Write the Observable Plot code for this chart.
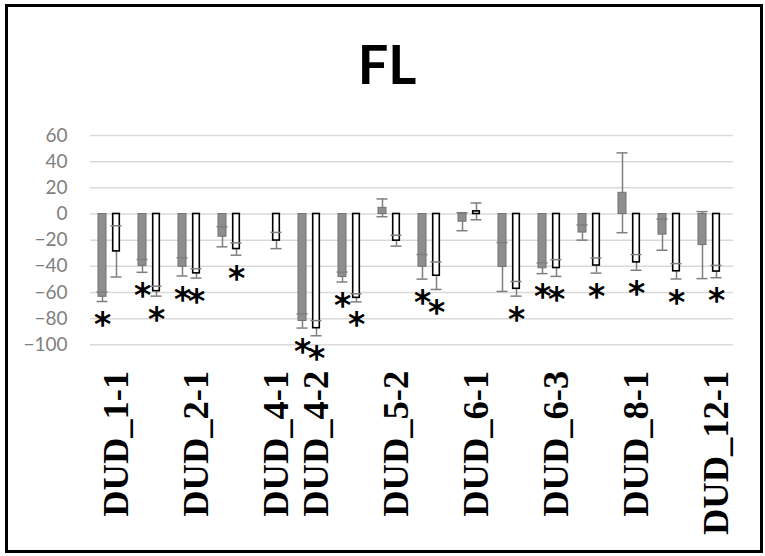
<!DOCTYPE html>
<html><head><meta charset="utf-8">
<script src="https://cdn.jsdelivr.net/npm/d3@7"></script>
<script src="https://cdn.jsdelivr.net/npm/@observablehq/plot@0.6"></script>
<style>
body{margin:0;background:#fff;}
#wrap{position:relative;width:765px;height:556px;overflow:hidden;background:#fff;}
#chart{position:absolute;left:0;top:0;}
#title{position:absolute;left:0;width:774px;top:37px;text-align:center;font-family:Lato,"Open Sans",sans-serif;font-weight:700;font-size:54px;line-height:54px;color:#000;}
#frame{position:absolute;left:5px;top:4px;width:758px;height:549px;border:3.5px solid #000;box-sizing:border-box;pointer-events:none;}
</style></head><body>
<div id="wrap"><div id="chart"></div><div id="title">FL</div><div id="frame"></div></div>
<script>
// Category tick labels (only every other one shown in the original)
const tickLabels = ["DUD_1-1","","DUD_2-1","","DUD_4-1","DUD_4-2","","DUD_5-2","","DUD_6-1","","DUD_6-3","","DUD_8-1","","DUD_12-1"];
const categories = d3.range(tickLabels.length);
// Series 1 (grey filled bars)
const grayMean = [-63.3,-39.7,-40.4,-17.4,null,-81.8,-48.2,4.7,-40.4,-5.9,-40.5,-41.5,-14.2,16.2,-15.8,-23.8];
const grayErr  = [3.6,4.9,7.0,7.7,null,5.4,3.8,6.8,9.4,6.9,18.7,4.1,5.8,30.5,11.9,25.6];
const graySig  = [1,1,1,0,0,1,1,0,1,0,0,1,0,0,0,0];
// Series 2 (white outlined bars)
const whiteMean = [-28.6,-59.0,-45.4,-26.8,-20.3,-87.3,-64.1,-20.4,-47.2,2.0,-57.2,-41.3,-39.4,-37.0,-43.8,-44.0];
const whiteErr  = [19.6,3.8,3.6,4.7,6.2,5.8,3.1,4.2,10.5,6.4,5.6,6.4,5.8,6.0,5.9,4.7];
const whiteSig  = [0,1,1,1,0,1,1,0,1,0,1,1,1,1,1,1];
const yTicks = [-100,-80,-60,-40,-20,0,20,40,60];

const mk = (means, errs, sigs) => categories.map(i => ({cat: i, mean: means[i], err: errs[i], sig: sigs[i]})).filter(d => d.mean != null);
const gray = mk(grayMean, grayErr, graySig);
const white = mk(whiteMean, whiteErr, whiteSig);

const errColor = "#7f7f7f";
const starOpts = {text: () => "*", dy: 24, fontSize: 33, fontWeight: "bold", fontFamily: "DejaVu Sans", fill: "#000"};
const chart = Plot.plot({
  width: 765, height: 556,
  marginLeft: 82, marginRight: 29, marginTop: 135, marginBottom: 211.7,
  style: {fontFamily: "Lato, sans-serif", background: "transparent"},
  x: {type: "band", domain: categories, padding: 0, axis: null, label: null},
  y: {domain: [-100, 60], axis: null, label: null},
  marks: [
    Plot.ruleY(yTicks, {stroke: "#d9d9d9", strokeWidth: 1.5, insetLeft: 8, insetRight: 3}),
    // error stems (behind bars)
    Plot.ruleX(gray, {x: "cat", y1: d => d.mean - d.err, y2: d => d.mean + d.err, dx: -7, stroke: errColor, strokeWidth: 1.5}),
    Plot.ruleX(white, {x: "cat", y1: d => d.mean - d.err, y2: d => d.mean + d.err, dx: 7, stroke: errColor, strokeWidth: 1.5}),
    // bars
    Plot.barY(gray, {x: "cat", y: "mean", fill: "#8e8e8e", stroke: "#737373", strokeWidth: 1, insetLeft: 9, insetRight: 23}),
    Plot.barY(white, {x: "cat", y: "mean", fill: "#fff", stroke: "#000", strokeWidth: 1.6, insetLeft: 23.7, insetRight: 9.7}),
    // error caps
    Plot.tickY(gray, {x: "cat", y: d => d.mean - d.err, stroke: errColor, strokeWidth: 1.5, insetLeft: 7.5, insetRight: 21.5}),
    Plot.tickY(gray, {x: "cat", y: d => d.mean + d.err, stroke: errColor, strokeWidth: 1.5, insetLeft: 7.5, insetRight: 21.5}),
    Plot.tickY(white, {x: "cat", y: d => d.mean - d.err, stroke: errColor, strokeWidth: 1.5, insetLeft: 21.5, insetRight: 7.5}),
    Plot.tickY(white, {x: "cat", y: d => d.mean + d.err, stroke: errColor, strokeWidth: 1.5, insetLeft: 21.5, insetRight: 7.5}),
    // significance asterisks
    Plot.text(gray.filter(d => d.sig), {x: "cat", y: d => d.mean - d.err, dx: -7, ...starOpts}),
    Plot.text(white.filter(d => d.sig), {x: "cat", y: d => d.mean - d.err, dx: 7, ...starOpts}),
    // axes
    Plot.axisY({ticks: yTicks, label: null, tickSize: 0, tickPadding: 15, fontSize: 19, fill: "#7f7f7f", fontFamily: "Lato"}),
    Plot.text(categories.filter(i => tickLabels[i]), {
      x: d => d, text: d => tickLabels[d], frameAnchor: "bottom",
      rotate: -90, textAnchor: "end", lineAnchor: "middle", dy: 26, dx: 7,
      fontSize: 36.5, fontWeight: "bold", fontFamily: "Liberation Serif", fill: "#000"
    })
  ]
});
document.getElementById("chart").appendChild(chart);
</script>
</body></html>
